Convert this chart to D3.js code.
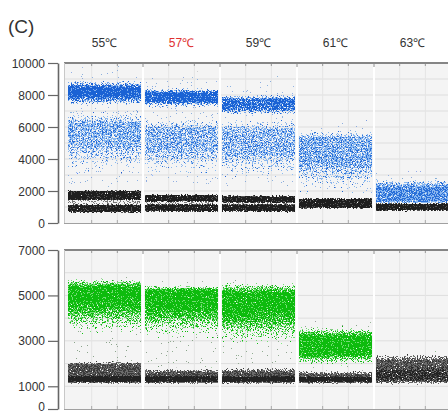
<!DOCTYPE html>
<html>
<head>
<meta charset="utf-8">
<script src="https://cdn.jsdelivr.net/npm/d3@7"></script>
<style>
  html,body{margin:0;padding:0;background:#fff;}
  svg{display:block;font-family:"Liberation Sans",Arial,sans-serif;}
</style>
</head>
<body>
<svg id="chart" width="448" height="415"></svg>
<script>
/* ---- data ---- */
var temps=['55℃','57℃','59℃','61℃','63℃'];
var hotTemp='57℃';
var famTicks=[0,2000,4000,6000,8000,10000];
var hexTicks=[0,1000,3000,5000,7000];
var famGrid=[1000,2000,3000,4000,5000,6000,7000,8000,9000];
var hexGrid=[1000,2000,3000,4000,5000,6000];

// droplet clusters: [column, low, core low, core high, high, peak density]
var famRain=[[0,2200,2600,9300,9900,.14],[1,2200,2600,8800,9500,.14],[2,2200,2600,8600,9300,.13],[3,1500,1800,6000,6600,.1],[4,1200,1400,3000,3400,.1]];
var famPos=[[0,7300,7950,8450,8900,1],[1,7200,7650,8100,8450,1],[2,6700,7150,7700,8050,.85]];
var famMid=[[0,3000,5000,6200,7000,.72],[1,2900,4600,5900,6600,.68],[2,2700,4400,5800,6500,.68],[3,1800,3800,5300,5800,.75],[4,1100,1400,2200,2800,1]];
var famNeg=[[0,1380,1500,1950,2080,1],[0,600,750,1080,1220,1],[1,1280,1400,1700,1830,1],[1,650,800,1100,1240,1],
            [2,1220,1330,1620,1760,1],[2,650,800,1100,1240,1],[3,850,1000,1450,1600,1],[4,700,850,1150,1280,1]];
var famGap=[[0,1100,1200,1400,1500,.45],[1,1050,1150,1320,1400,.45],[2,1050,1150,1280,1350,.45]];

var hexRain=[[0,1900,2200,5600,6100,.12],[1,1800,2100,5400,5800,.11],[2,1800,2100,5400,5900,.11],[3,1700,1800,3600,4000,.08],[4,1100,1200,2400,2700,.05]];
var hexPos=[[0,3200,4700,5350,5750,1],[1,3100,4500,5200,5450,1],[2,2800,4300,5100,5600,1],[3,1900,2450,3150,3650,1]];
var hexNeg=[[0,1080,1200,1950,2100,1],[1,1080,1200,1600,1800,1],[2,1080,1200,1620,1850,1],[3,1080,1200,1500,1700,1],[4,1050,1250,2100,2450,.95]];
var hexNegCore=[[0,1150,1230,1420,1500,1],[1,1150,1230,1400,1480,1],[2,1150,1230,1400,1480,1],[3,1150,1230,1380,1450,1],[4,1150,1300,1700,1900,.6]];

/* ---- layout ---- */
var svg=d3.select('#chart');
var W=448;
var x=d3.scaleBand().domain(temps).range([66,451]).padding(0);
var yTop=d3.scaleLinear().domain([0,10000]).range([223,63]);
var yBot=d3.scaleLinear().domain([0,7000]).range([409,250]);

var defs=svg.append('defs');
// speckle filter: turns a soft alpha profile into scattered droplets
[1,2,3,4,5,6].forEach(function(seed){
  var f=defs.append('filter').attr('id','spk'+seed).attr('x',0).attr('y',0).attr('width',1).attr('height',1)
    .attr('color-interpolation-filters','sRGB');
  f.append('feTurbulence').attr('type','fractalNoise').attr('baseFrequency',0.8).attr('numOctaves',2).attr('seed',seed*7).attr('result','n');
  f.append('feColorMatrix').attr('in','n').attr('type','matrix')
    .attr('values','0 0 0 0 0  0 0 0 0 0  0 0 0 0 0  1 0 0 0 0').attr('result','na');
  f.append('feComposite').attr('in','SourceAlpha').attr('in2','na').attr('operator','arithmetic')
    .attr('k1',0).attr('k2',1).attr('k3',2).attr('k4',-1.1).attr('result','s');
  var ct=f.append('feComponentTransfer').attr('in','s').attr('result','m');
  ct.append('feFuncA').attr('type','discrete').attr('tableValues','0 1');
  f.append('feColorMatrix').attr('in','SourceGraphic').attr('type','matrix')
    .attr('values','1 0 0 0 0  0 1 0 0 0  0 0 1 0 0  0 0 0 40 0').attr('result','c');
  f.append('feComposite').attr('in','c').attr('in2','m').attr('operator','in').attr('result','d');
  f.append('feGaussianBlur').attr('in','d').attr('stdDeviation',0.45);
});

var gid=0;
function clusters(g,y,rows,color,seed,scale){
  rows.forEach(function(r){
    var id='cg'+(gid++);
    var yHi=y(r[4]), yLo=y(r[1]), span=yLo-yHi;
    var gr=defs.append('linearGradient').attr('id',id).attr('gradientUnits','userSpaceOnUse')
      .attr('x1',0).attr('x2',0).attr('y1',yHi).attr('y2',yLo);
    var a=r[5]*scale;
    [[r[4],0],[r[3],a],[r[2],a],[r[1],0]].forEach(function(s){
      gr.append('stop').attr('offset',((y(s[0])-yHi)/span)).attr('stop-color',color).attr('stop-opacity',Math.max(0.001,s[1]));
    });
    g.append('rect').attr('x',x(temps[r[0]])+2).attr('width',x.bandwidth()-4)
      .attr('y',yHi).attr('height',span).attr('fill','url(#'+id+')').attr('filter','url(#spk'+seed+')');
  });
}

function panel(y,ticks,grid){
  var g=svg.append('g');
  var y0=y.range()[0], y1=y.range()[1];
  g.append('rect').attr('x',64).attr('y',y1).attr('width',W-64).attr('height',y0-y1).attr('fill','#f4f4f4');
  g.selectAll('.hg').data(grid).enter().append('line')
    .attr('x1',64).attr('x2',W).attr('y1',function(d){return y(d)}).attr('y2',function(d){return y(d)})
    .attr('stroke','#dedede').attr('stroke-width',1);
  temps.forEach(function(t){
    [1,2].forEach(function(k){
      var xx=x(t)+k*x.bandwidth()/3;
      g.append('line').attr('x1',xx).attr('x2',xx).attr('y1',y1).attr('y2',y0).attr('stroke','#e4e4e4');
      g.append('line').attr('x1',xx).attr('x2',xx).attr('y1',y1).attr('y2',y1+3).attr('stroke','#999');
      g.append('line').attr('x1',xx).attr('x2',xx).attr('y1',y0-3).attr('y2',y0).attr('stroke','#aaa');
    });
  });
  var ax=svg.append('g').attr('transform','translate(58,0)')
    .call(d3.axisLeft(y).tickValues(ticks).tickSize(10).tickSizeOuter(0).tickPadding(3).tickFormat(d3.format('d')));
  ax.select('.domain').attr('stroke','#666').attr('stroke-width',1.6);
  ax.selectAll('.tick line').attr('stroke','#666').attr('stroke-width',1.2);
  ax.selectAll('.tick text').attr('fill','#333').attr('font-size','12px')
    .attr('dy',function(d){return d===0&&y===yBot?'0.12em':'0.34em'})
    .attr('font-family','"Liberation Sans",Arial,sans-serif');
  return g;
}

function frame(y){
  var y0=y.range()[0], y1=y.range()[1];
  var g=svg.append('g');
  temps.slice(1).forEach(function(t){
    g.append('line').attr('x1',x(t)).attr('x2',x(t)).attr('y1',y1).attr('y2',y0).attr('stroke','#fff').attr('stroke-width',2);
    g.append('line').attr('x1',x(t)).attr('x2',x(t)).attr('y1',y1).attr('y2',y1+4).attr('stroke','#888');
  });
  g.append('line').attr('x1',64).attr('x2',W).attr('y1',y1).attr('y2',y1).attr('stroke','#858585').attr('stroke-width',2);
  g.append('line').attr('x1',64).attr('x2',W).attr('y1',y0+0.5).attr('y2',y0+0.5).attr('stroke','#a0a0a0').attr('stroke-width',1);
  g.append('line').attr('x1',64.5).attr('x2',64.5).attr('y1',y1).attr('y2',y0).attr('stroke','#c8c8c8').attr('stroke-width',1);
}

/* ---- top panel (blue channel) ---- */
var gT=panel(yTop,famTicks,famGrid);
clusters(gT,yTop,famRain,'#8fb0e0',1,1);
clusters(gT,yTop,famMid,'#8ab8f0',2,.95);
clusters(gT,yTop,famMid,'#2a6fd8',3,.6);
clusters(gT,yTop,famPos,'#78aaec',4,1);
clusters(gT,yTop,famPos,'#1a62d4',5,.85);
clusters(gT,yTop,famGap,'#777',6,1);
clusters(gT,yTop,famNeg,'#555',2,1);
clusters(gT,yTop,famNeg,'#1e1e1e',4,.9);
frame(yTop);

/* ---- bottom panel (green channel) ---- */
var gB=panel(yBot,hexTicks,hexGrid);
clusters(gB,yBot,hexRain,'#90a890',1,1);
clusters(gB,yBot,hexPos,'#72dc72',2,1);
clusters(gB,yBot,hexPos,'#0dbb0d',3,.85);
clusters(gB,yBot,hexNeg,'#6a6a6a',4,1);
clusters(gB,yBot,hexNeg,'#3a3a3a',5,.6);
clusters(gB,yBot,hexNegCore,'#222',6,1);
frame(yBot);

/* ---- labels ---- */
svg.selectAll('.temp').data(temps).enter().append('text')
  .attr('x',function(d){return x(d)+x.bandwidth()/2}).attr('y',47)
  .attr('text-anchor','middle').attr('font-size','12px')
  .attr('fill',function(d){return d===hotTemp?'#e03030':'#333'})
  .text(function(d){return d});
svg.append('text').attr('x',8).attr('y',33).attr('font-size','19px').attr('fill','#333').text('(C)');
</script>
</body>
</html>
